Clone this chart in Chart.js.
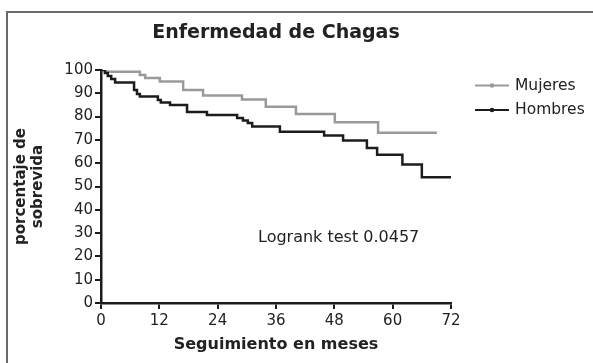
<!DOCTYPE html>
<html>
<head>
<meta charset="utf-8">
<script src="https://cdn.jsdelivr.net/npm/chart.js@4.4.1/dist/chart.umd.min.js"></script>
<style>
html,body{margin:0;padding:0;background:#fff;}
#wrap{width:593px;height:363px;position:relative;}
</style>
</head>
<body>
<div id="wrap"><canvas id="c" width="593" height="363"></canvas></div>
<script>
// ---- texts ----
const chartTitle = 'Enfermedad de Chagas';
const xAxisTitle = 'Seguimiento en meses';
const yAxisTitle = ['porcentaje de', 'sobrevida'];
const annotationText = 'Logrank test 0.0457';
const seriesNames = ['Mujeres', 'Hombres'];

// ---- tick labels ----
const xTicks = [0, 12, 24, 36, 48, 60, 72];
const yTicks = [0, 10, 20, 30, 40, 50, 60, 70, 80, 90, 100];

// ---- series (Kaplan-Meier steps: month, % survival) ----
const mujeresMeses     = [0, 1, 8.0, 9.1, 12.1, 16.9, 21.0, 29.0, 33.9, 40.1, 48.1, 57.0, 69.1];
const mujeresSobrevida = [100, 99.3, 97.9, 96.6, 95.1, 91.4, 89.1, 87.3, 84.2, 81.1, 77.6, 73.1, 73.1];

const hombresMeses     = [0, 0.8, 1.4, 2.1, 2.9, 6.8, 7.4, 8.0, 11.7, 12.3, 14.2, 17.7, 21.8, 28.0, 29.2, 30.2, 31.1, 36.8, 45.9, 49.8, 54.7, 56.8, 62.0, 66.0, 72];
const hombresSobrevida = [100, 98.7, 97.4, 96.1, 94.6, 91.4, 89.7, 88.6, 87.1, 86.1, 85.0, 82.0, 80.7, 79.4, 78.3, 77.3, 75.7, 73.5, 71.9, 69.7, 66.5, 63.6, 59.4, 54.0, 54.0];

const FONT = 'DejaVu Sans';
const INK = '#222222';

const toPoints = (xs, ys) => xs.map((x, i) => ({x: x, y: ys[i]}));

const decor = {
  id: 'decor',
  beforeDraw(chart) {
    const ctx = chart.ctx;
    ctx.save();
    ctx.fillStyle = '#ffffff';
    ctx.fillRect(0, 0, chart.width, chart.height);
    ctx.strokeStyle = '#6a6a6a';
    ctx.lineWidth = 2;
    ctx.strokeRect(7, 12, chart.width + 40, chart.height + 40);
    ctx.restore();
  },
  afterDraw(chart) {
    const ctx = chart.ctx;
    const ca = chart.chartArea;
    ctx.save();
    // legend
    chart.data.datasets.forEach((ds, i) => {
      const y = ca.top + 15.5 + i * 24.5;
      const x0 = ca.right + 24, x1 = ca.right + 58;
      ctx.strokeStyle = ds.borderColor;
      ctx.lineWidth = 2;
      ctx.beginPath();
      ctx.moveTo(x0, y);
      ctx.lineTo(x1, y);
      ctx.stroke();
      ctx.fillStyle = ds.borderColor;
      ctx.beginPath();
      ctx.arc((x0 + x1) / 2, y, 2.3, 0, Math.PI * 2);
      ctx.fill();
      ctx.fillStyle = INK;
      ctx.font = '15.5px "' + FONT + '"';
      ctx.textAlign = 'left';
      ctx.textBaseline = 'middle';
      ctx.fillText(ds.label, ca.right + 64, y);
    });
    // annotation
    ctx.fillStyle = INK;
    ctx.font = '16px "' + FONT + '"';
    ctx.textAlign = 'left';
    ctx.textBaseline = 'middle';
    ctx.fillText(annotationText, ca.left + 157, ca.top + 168);
    ctx.restore();
  }
};

new Chart(document.getElementById('c'), {
  type: 'line',
  data: {
    datasets: [
      {
        label: seriesNames[0],
        data: toPoints(mujeresMeses, mujeresSobrevida),
        stepped: true,
        borderColor: '#9a9a9a',
        backgroundColor: '#9a9a9a',
        borderWidth: 2.5,
        pointRadius: 0,
        fill: false,
        order: 2
      },
      {
        label: seriesNames[1],
        data: toPoints(hombresMeses, hombresSobrevida),
        stepped: true,
        borderColor: '#1c1c1c',
        backgroundColor: '#1c1c1c',
        borderWidth: 2.5,
        pointRadius: 0,
        fill: false,
        order: 1
      }
    ]
  },
  options: {
    responsive: false,
    animation: false,
    devicePixelRatio: 1,
    layout: { padding: { left: 0, right: 142, top: 0, bottom: 0 } },
    plugins: {
      legend: { display: false },
      tooltip: { enabled: false },
      title: {
        display: true,
        text: chartTitle,
        fullSize: false,
        color: INK,
        font: { family: FONT, size: 19, weight: 'bold', lineHeight: 1.2 },
        padding: { top: 22, bottom: 25.2 }
      }
    },
    scales: {
      x: {
        type: 'linear',
        min: 0,
        max: 72,
        afterBuildTicks: s => { s.ticks = xTicks.map(v => ({ value: v })); },
        afterFit: s => { s.height = 60; },
        border: { display: true, color: '#1c1c1c', width: 2.5 },
        grid: { drawOnChartArea: false, drawTicks: true, tickLength: 6, lineWidth: 2, color: '#1c1c1c' },
        ticks: { color: INK, font: { family: FONT, size: 15 }, padding: 3, maxRotation: 0 },
        title: {
          display: true,
          text: xAxisTitle,
          color: INK,
          font: { family: FONT, size: 16, weight: 'bold', lineHeight: 1.2 },
          padding: { top: 0, bottom: 8.4 }
        }
      },
      y: {
        type: 'linear',
        min: 0,
        max: 100,
        afterBuildTicks: s => { s.ticks = yTicks.map(v => ({ value: v })); },
        afterFit: s => { s.width = 101; },
        border: { display: true, color: '#1c1c1c', width: 2.5 },
        grid: { drawOnChartArea: false, drawTicks: true, tickLength: 6, lineWidth: 2, color: '#1c1c1c' },
        ticks: { color: INK, font: { family: FONT, size: 15 }, padding: 2 },
        title: {
          display: true,
          text: yAxisTitle,
          color: INK,
          font: { family: FONT, size: 15, weight: 'bold', lineHeight: 1.15 },
          padding: { top: 12.4, bottom: 0 }
        }
      }
    }
  },
  plugins: [decor]
});
</script>
</body>
</html>
